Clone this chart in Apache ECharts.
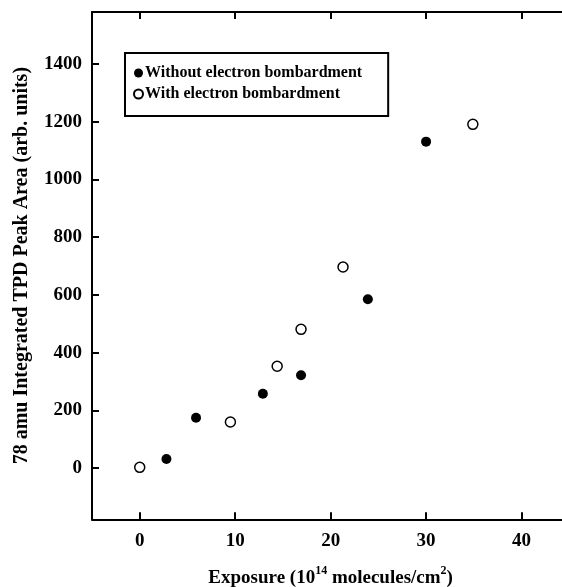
<!DOCTYPE html>
<html>
<head>
<meta charset="utf-8">
<script src="https://cdn.jsdelivr.net/npm/echarts@6/dist/echarts.min.js"></script>
<style>
  html, body { margin: 0; padding: 0; overflow: hidden; background: #fff; }
  #main { width: 580px; height: 587px; }
</style>
</head>
<body>
<div id="main"></div>
<script>
var chartDom = document.getElementById('main');
var myChart = echarts.init(chartDom);
var option;

// exposure (1e14 molecules/cm2), peak area
const withoutExposure = [2.8, 5.9, 12.9, 16.9, 23.9, 30.0];
const withoutArea = [32, 175, 258, 322, 585, 1131];
const withExposure = [0, 9.5, 14.4, 16.9, 21.3, 34.9];
const withArea = [3, 160, 353, 481, 697, 1191];
const xTicks = [0, 10, 20, 30, 40];
const yTicks = [0, 200, 400, 600, 800, 1000, 1200, 1400];

const font = 'Liberation Serif';

function pairs(xs, ys) {
  return xs.map(function (x, i) { return [x, ys[i]]; });
}

function axisCommon(showLabel, ticks) {
  return {
    axisLine: { show: true, onZero: false, lineStyle: { color: '#000', width: 2 } },
    axisTick: { show: true, inside: true, length: 7, customValues: ticks, lineStyle: { color: '#000', width: 2 } },
    axisLabel: {
      show: showLabel, customValues: ticks,
      formatter: function (v) { return String(v); },
      color: '#000', fontFamily: font, fontWeight: 'bold', fontSize: 19
    },
    splitLine: { show: false }
  };
}

var xBottom = Object.assign({
  type: 'value', position: 'bottom', min: -5, max: 45,
  name: '{a|Exposure (10}{s|14}{a| molecules/cm}{s|2}{a|)}',
  nameLocation: 'middle', nameGap: 46,
  nameTextStyle: {
    rich: {
      a: { fontFamily: font, fontWeight: 'bold', fontSize: 19, color: '#000' },
      s: { fontFamily: font, fontWeight: 'bold', fontSize: 12, color: '#000', padding: [0, 0, 14, 0] }
    }
  }
}, axisCommon(true, xTicks));
xBottom.axisLabel.margin = 12;

var xTop = Object.assign({ type: 'value', position: 'top', min: -5, max: 45 }, axisCommon(false, xTicks));

var yLeft = Object.assign({
  type: 'value', position: 'left', min: -177, max: 1580,
  name: '78 amu Integrated TPD Peak Area (arb. units)',
  nameLocation: 'middle', nameGap: 60,
  nameTextStyle: { fontFamily: font, fontWeight: 'bold', fontSize: 20, color: '#000' }
}, axisCommon(true, yTicks));
yLeft.axisLabel.margin = 10;

var yRight = Object.assign({ type: 'value', position: 'right', min: -177, max: 1580 }, axisCommon(false, yTicks));

option = {
  animation: false,
  backgroundColor: '#fff',
  grid: { left: 92, right: 10.75, top: 12, bottom: 67.7, outerBoundsMode: 'none' },
  legend: {
    orient: 'vertical',
    left: 125, top: 53,
    borderColor: '#000', borderWidth: 2,
    padding: [12, 26, 14, 8],
    itemWidth: 9, itemHeight: 9, itemGap: 5,
    icon: 'circle',
    textStyle: { fontFamily: font, fontWeight: 'bold', fontSize: 16, color: '#000', padding: [0, 0, 0, -3] },
    data: ['Without electron bombardment', 'With electron bombardment']
  },
  xAxis: [xBottom, xTop],
  yAxis: [yLeft, yRight],
  series: [
    {
      name: 'Without electron bombardment',
      type: 'scatter',
      symbol: 'circle',
      symbolSize: 10,
      itemStyle: { color: '#000', opacity: 1 },
      data: pairs(withoutExposure, withoutArea)
    },
    {
      name: 'With electron bombardment',
      type: 'scatter',
      symbol: 'circle',
      symbolSize: 10,
      itemStyle: { color: '#fff', borderColor: '#000', borderWidth: 1.5, opacity: 1 },
      data: pairs(withExposure, withArea)
    }
  ]
};

option && myChart.setOption(option);
</script>
</body>
</html>
